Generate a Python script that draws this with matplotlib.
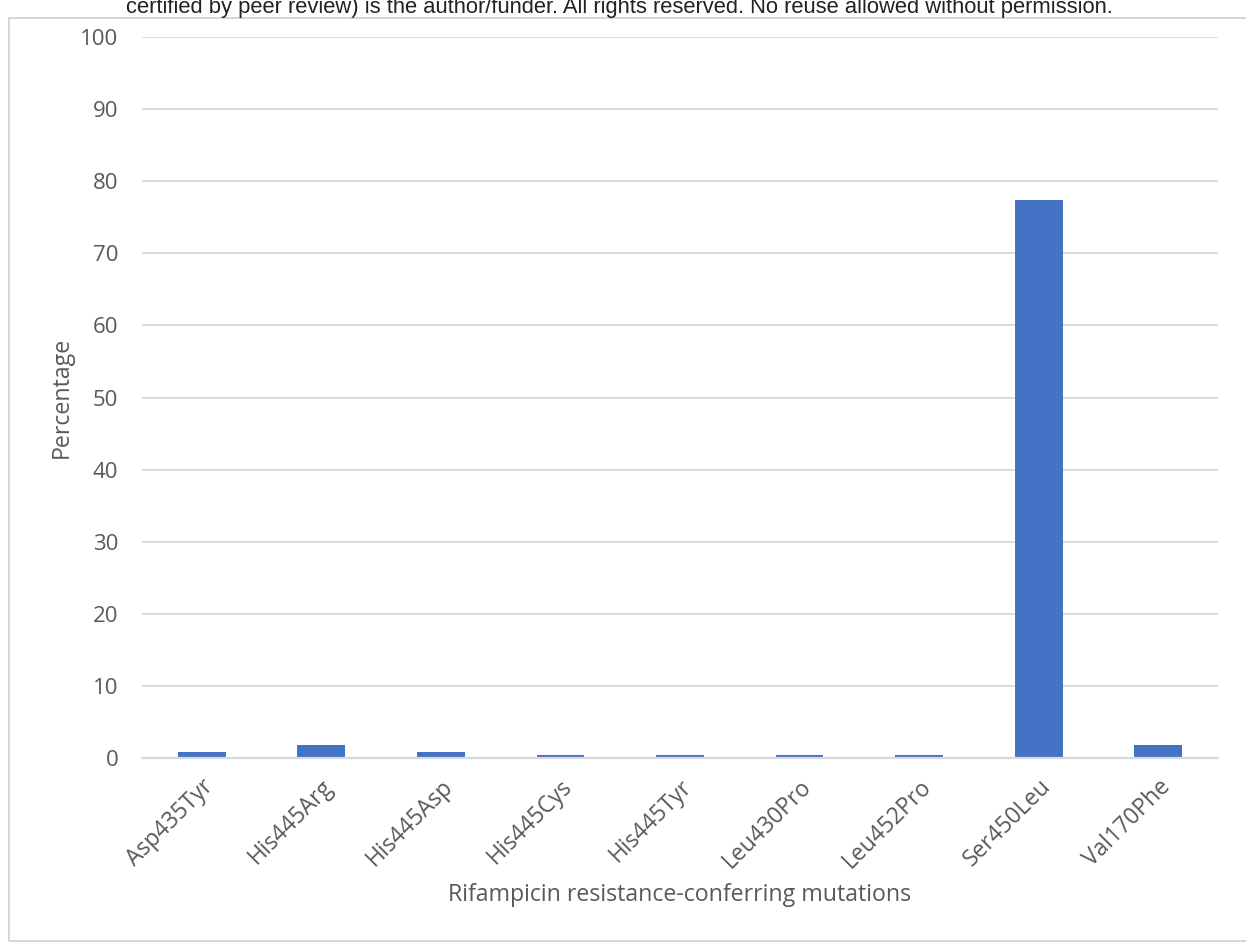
import matplotlib
matplotlib.use("Agg")
import matplotlib.pyplot as plt
from matplotlib.patches import Rectangle
import numpy as np

mutations = ["Asp435Tyr", "His445Arg", "His445Asp", "His445Cys", "His445Tyr",
             "Leu430Pro", "Leu452Pro", "Ser450Leu", "Val170Phe"]
percentages = [0.88, 1.77, 0.88, 0.44, 0.44, 0.44, 0.44, 77.43, 1.77]
y_ticks = [0, 10, 20, 30, 40, 50, 60, 70, 80, 90, 100]

plt.rcParams["font.family"] = ["Open Sans", "DejaVu Sans"]
text_color = "#595959"
grid_color = "#d9d9d9"

W, H = 1246, 942
fig = plt.figure(figsize=(W / 100, H / 100), dpi=100)
fig.patch.set_facecolor("white")

# outer chart frame
fig.add_artist(Rectangle((9 / W, 1 / H), 1.0, 923 / H, transform=fig.transFigure,
                         fill=False, edgecolor="#d0d0d0", linewidth=1.2))

# header line above the frame
fig.text(0.5 - 4 / W, 1 - 13 / H,
         "certified by peer review) is the author/funder. All rights reserved. No reuse allowed without permission.",
         ha="center", va="baseline", fontsize=15.8, color="#222222",
         family=["Liberation Sans", "DejaVu Sans"])

ax = fig.add_axes([142 / W, 1 - 758 / H, (1218 - 142) / W, (758 - 37) / H])
x = np.arange(len(mutations))
ax.bar(x, percentages, width=0.4, color="#4472c4", zorder=3)

ax.set_xlim(-0.5, len(mutations) - 0.5)
ax.set_ylim(0, 100)
ax.set_yticks(y_ticks)
ax.set_yticklabels([str(t) for t in y_ticks], fontsize=16, color=text_color)
ax.set_xticks(x)
ax.set_xticklabels(mutations, rotation=45, ha="right", rotation_mode="anchor",
                   fontsize=16.5, color=text_color)
ax.tick_params(axis="both", length=0)
ax.tick_params(axis="y", pad=17)
ax.tick_params(axis="x", pad=12)

ax.yaxis.grid(True, color=grid_color, linewidth=1.4, zorder=0)
ax.set_axisbelow(True)
for side in ["top", "right", "left"]:
    ax.spines[side].set_visible(False)
ax.spines["bottom"].set_color(grid_color)
ax.spines["bottom"].set_linewidth(1.6)
ax.spines["bottom"].set_zorder(4)

# axis titles
fig.text(680 / W, 1 - 895 / H, "Rifampicin resistance-conferring mutations",
         ha="center", va="center", fontsize=16.7, color=text_color)
fig.text(62 / W, 1 - 397.5 / H, "Percentage", rotation=90,
         ha="center", va="center", fontsize=16.7, color=text_color)

fig.savefig("out.png", dpi=100, facecolor="white")
